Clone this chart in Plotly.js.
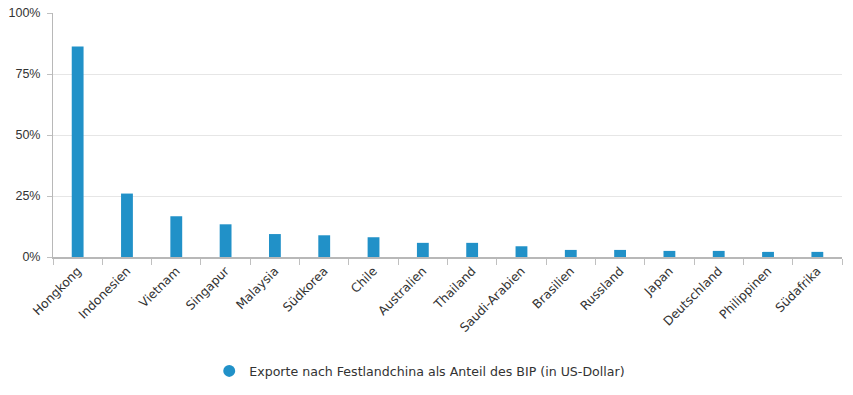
<!DOCTYPE html>
<html>
<head>
<meta charset="utf-8">
<script src="https://cdn.plot.ly/plotly-3.0.1.min.js"></script>
<style>html,body{margin:0;padding:0;background:#fff;}#chart{width:853px;height:395px;}</style>
</head>
<body>
<div id="chart"></div>
<script>
const categories = ["Hongkong","Indonesien","Vietnam","Singapur","Malaysia","Südkorea","Chile","Australien","Thailand","Saudi-Arabien","Brasilien","Russland","Japan","Deutschland","Philippinen","Südafrika"];
const values = [86.3, 26.0, 16.7, 13.4, 9.4, 8.9, 8.1, 5.8, 5.8, 4.4, 2.9, 2.9, 2.5, 2.5, 2.1, 2.1];
const seriesName = "Exporte nach Festlandchina als Anteil des BIP (in US-Dollar)";
const yTickVals = [0, 25, 50, 75, 100];
const yTickText = ["0%", "25%", "50%", "75%", "100%"];

const barColor = "#2191c8";
const data = [
  {
    type: "bar",
    x: categories,
    y: values,
    marker: {color: barColor},
    showlegend: false,
    hoverinfo: "x+y"
  },
  {
    type: "scatter",
    mode: "markers",
    x: [null],
    y: [null],
    name: seriesName,
    marker: {color: barColor, size: 14, symbol: "circle"},
    showlegend: true
  }
];
const layout = {
  width: 853,
  height: 395,
  margin: {l: 53, r: 11, t: 13, b: 137},
  paper_bgcolor: "#ffffff",
  plot_bgcolor: "#ffffff",
  bargap: 0.76,
  font: {family: "DejaVu Sans, sans-serif", size: 12, color: "#333333"},
  xaxis: {
    type: "category",
    tickangle: -45,
    tickson: "boundaries",
    ticks: "outside",
    ticklen: 6,
    tickcolor: "#c0c0c0",
    showline: true,
    linecolor: "#b8b8b8",
    linewidth: 2,
    showgrid: false,
    zeroline: false,
    tickfont: {family: "DejaVu Sans, sans-serif", size: 12.3, color: "#333333"},
    fixedrange: true
  },
  yaxis: {
    range: [0, 100],
    tickvals: yTickVals,
    ticktext: yTickText,
    ticks: "outside",
    ticklen: 5,
    tickcolor: "#c0c0c0",
    ticklabelstandoff: 4,
    showline: true,
    linecolor: "#b8b8b8",
    linewidth: 1,
    showgrid: true,
    gridcolor: "#e6e6e6",
    zeroline: false,
    tickfont: {family: "Liberation Sans, Arial, sans-serif", size: 12.5, color: "#333333"},
    fixedrange: true
  },
  legend: {
    orientation: "h",
    x: 0.198,
    xanchor: "left",
    y: -0.462,
    yanchor: "middle",
    font: {family: "DejaVu Sans, sans-serif", size: 12.6, color: "#333333"},
    itemsizing: "constant"
  }
};
Plotly.newPlot("chart", data, layout, {displayModeBar: false, staticPlot: true});
</script>
</body>
</html>
